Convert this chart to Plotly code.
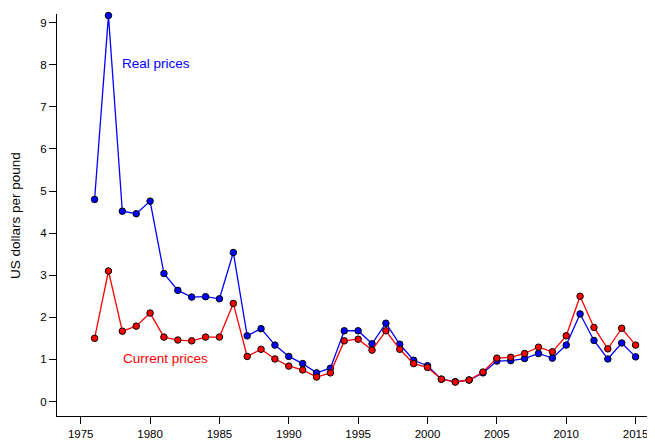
import plotly.graph_objects as go

years = list(range(1976, 2016))
real_prices = [4.80, 9.17, 4.52, 4.46, 4.76, 3.04, 2.64, 2.48, 2.49, 2.44,
               3.54, 1.56, 1.73, 1.34, 1.07, 0.90, 0.68, 0.79, 1.68, 1.68,
               1.37, 1.86, 1.36, 0.98, 0.85, 0.53, 0.47, 0.51, 0.68, 0.96,
               0.97, 1.02, 1.14, 1.03, 1.34, 2.08, 1.45, 1.01, 1.39, 1.06]
current_prices = [1.50, 3.10, 1.67, 1.79, 2.10, 1.53, 1.46, 1.44, 1.53, 1.53,
                  2.33, 1.07, 1.24, 1.01, 0.84, 0.75, 0.58, 0.68, 1.44, 1.48,
                  1.22, 1.68, 1.24, 0.90, 0.81, 0.53, 0.46, 0.51, 0.70, 1.03,
                  1.05, 1.14, 1.29, 1.18, 1.56, 2.50, 1.76, 1.25, 1.74, 1.34]
x_ticks = [1975, 1980, 1985, 1990, 1995, 2000, 2005, 2010, 2015]
y_ticks = [0, 1, 2, 3, 4, 5, 6, 7, 8, 9]

FONT = "Liberation Sans, Arial, sans-serif"

fig = go.Figure()
fig.add_trace(go.Scatter(
    x=years, y=real_prices, mode="lines+markers", name="Real prices",
    line=dict(color="#0000FF", width=1.3),
    marker=dict(color="#0000FF", size=6.5, line=dict(color="black", width=1)),
    cliponaxis=False, showlegend=False))
fig.add_trace(go.Scatter(
    x=years, y=current_prices, mode="lines+markers", name="Current prices",
    line=dict(color="#FF0000", width=1.3),
    marker=dict(color="#FF0000", size=6.5, line=dict(color="black", width=1)),
    cliponaxis=False, showlegend=False))

fig.add_annotation(x=1980.43, y=8.04, text="Real prices", showarrow=False,
                   font=dict(family=FONT, size=13.5, color="#0000FF"))
fig.add_annotation(x=1981.08, y=1.03, text="Current prices", showarrow=False,
                   font=dict(family=FONT, size=13.5, color="#FF0000"))
# plot area spans page x 57..655 (598 px), page y 14..416
fig.add_annotation(xref="paper", yref="paper", x=(15 - 57) / 598, y=(416 - 216) / 402,
                   xanchor="center", yanchor="middle",
                   text="US dollars per pound", textangle=-90, showarrow=False,
                   font=dict(family=FONT, size=13.5, color="black"))

fig.update_layout(
    width=647, height=433,
    margin=dict(l=49, r=0, t=6, b=25, autoexpand=False),
    paper_bgcolor="white", plot_bgcolor="white",
    font=dict(family=FONT, size=11.5, color="black"),
    xaxis=dict(range=[1973.29, 2016.4], tickvals=x_ticks, ticks="outside",
               ticklen=7, tickcolor="black", showline=True, linecolor="black",
               linewidth=1, showgrid=False, zeroline=False, automargin=False),
    yaxis=dict(range=[-0.345, 9.206], tickvals=y_ticks, ticks="outside",
               ticklen=7, tickcolor="black", showline=True, linecolor="black",
               linewidth=1, showgrid=False, zeroline=False, automargin=False),
)

fig.write_html("out.html")
